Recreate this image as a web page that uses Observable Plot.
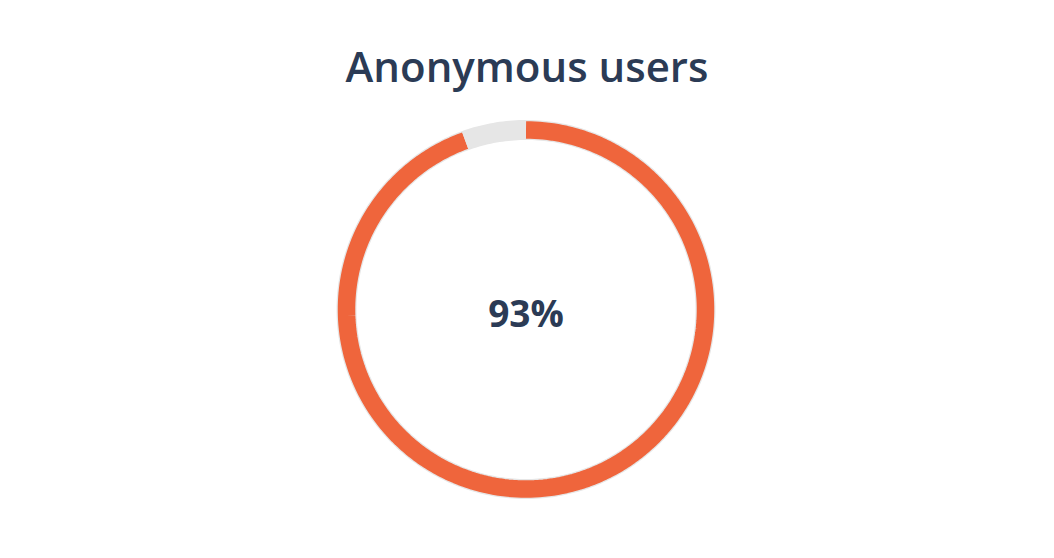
<!DOCTYPE html>
<html>
<head>
<meta charset="utf-8">
<script src="https://cdn.jsdelivr.net/npm/d3@7"></script>
<script src="https://cdn.jsdelivr.net/npm/@observablehq/plot@0.6"></script>
<style>
  html, body { margin: 0; padding: 0; background: #fff; }
  #title { margin-top: 16px; line-height: 100px; height: 100px; text-align: center;
    font-family: "Open Sans", sans-serif; font-weight: 600; font-size: 42px; color: #2b3b55; }
  #chart svg { display: block; }
</style>
</head>
<body>
<div id="title">Anonymous users</div>
<div id="chart"></div>
<script>
// Data
const title = "Anonymous users";
const categories = ["Anonymous", "Other"];
const arcShares = [94.5, 5.5];          // drawn arc shares (%)
const centerLabel = "93%";
const colors = ["#ef653c", "#e6e6e6"];

document.getElementById("title").textContent = title;

const W = 1054, H = 442;
const R = 179.5;          // mid radius in px
const cx = 525.5, cy = 193;

// build arc geometry from the shares
const total = d3.sum(arcShares);
let start = 0;
const arcs = [];
categories.forEach((c, i) => {
  const a0 = start / total * 2 * Math.PI;
  const a1 = (start + arcShares[i]) / total * 2 * Math.PI;
  start += arcShares[i];
  const n = 240;
  for (let k = 0; k <= n; k++) {
    const a = a0 + (a1 - a0) * k / n;
    arcs.push({cat: c, x: Math.sin(a), y: Math.cos(a)});
  }
});
const track = [];
for (let k = 0; k <= 360; k++) {
  const a = k / 360 * 2 * Math.PI;
  track.push({x: Math.sin(a), y: Math.cos(a)});
}

const chart = Plot.plot({
  width: W, height: H,
  margin: 0,
  x: {type: "linear", domain: [-cx / R, (W - cx) / R], range: [0, W], axis: null},
  y: {type: "linear", domain: [-(H - cy) / R, cy / R], range: [H, 0], axis: null},
  color: {domain: categories, range: colors},
  style: {background: "#fff"},
  marks: [
    Plot.line(track, {x: "x", y: "y", stroke: "#e6e6e6", strokeWidth: 20}),
    Plot.line(arcs, {x: "x", y: "y", z: "cat", stroke: "cat", strokeWidth: 17.5, strokeLinecap: "butt", strokeLinejoin: "round"}),
    Plot.text([centerLabel], {x: () => 0, y: () => 0, text: d => d, fontSize: 37, fontWeight: 700,
      fontFamily: "Open Sans", fill: "#2b3b55", dy: 6})
  ]
});
document.getElementById("chart").appendChild(chart);
</script>
</body>
</html>
